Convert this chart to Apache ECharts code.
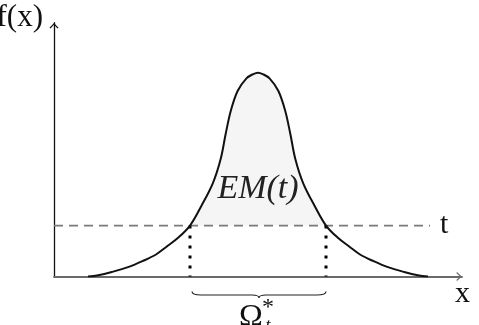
<!DOCTYPE html>
<html><head><meta charset="utf-8">
<script src="https://cdn.jsdelivr.net/npm/echarts@6/dist/echarts.min.js"></script>
<style>html,body{margin:0;padding:0;background:#fff}#c{width:479px;height:325px}</style>
</head><body><div id="c"></div>
<script>
// curve (x centred on the peak, y relative to peak height)
const curveX = [-5,-4.7,-4.3,-3.8,-3.4,-3.0,-2.7,-2.35,-2.0,-1.67,-1.33,-1.1,-0.95,-0.8,-0.6,-0.34,-0.14,0,
                0.14,0.34,0.6,0.8,0.95,1.1,1.33,1.67,2.0,2.35,2.7,3.0,3.4,3.8,4.3,4.7,5];
const curveY = [0,0.006,0.022,0.047,0.075,0.108,0.145,0.19,0.25,0.345,0.457,0.575,0.70,0.813,0.91,0.972,0.993,1.0,
                0.993,0.972,0.91,0.813,0.70,0.575,0.457,0.345,0.25,0.19,0.145,0.108,0.075,0.047,0.022,0.006,0];
const threshold = 0.25;
const thresholdLineX = [-6, 5.06];
const crossX = [-2, 2];
const axisRangeX = [-6, 6];
const axisRangeY = [0, 1.245];
const yAxisLabel = 'f(x)';
const xAxisLabel = 'x';
const thresholdLabel = 't';
const areaLabel = 'EM(t)';

const curveData = curveX.map((x, i) => [x, curveY[i]]);
const shadePts = curveData.filter(p => p[0] >= crossX[0] && p[0] <= crossX[1]);

const chevron = 'path://M5,0 L10,5.2 L8.9,6 L5,2 L1.1,6 L0,5.2 Z';
const chart = echarts.init(document.getElementById('c'), null, {renderer: 'canvas'});
const serif = 'Liberation Serif';
function txt(x, y, text, size, italic, align, color) {
  return {type: 'text', x: x, y: y, z: 100, style: {text: text, fontFamily: serif, fontSize: size,
    fontStyle: italic ? 'italic' : 'normal', fill: color || '#111', align: align, verticalAlign: 'middle'}};
}
chart.setOption({
  animation: false,
  backgroundColor: '#fff',
  grid: {left: 54, right: 17, top: 22.7, bottom: 48.5},
  xAxis: {
    type: 'value', min: axisRangeX[0], max: axisRangeX[1],
    axisLine: {show: true, onZero: false, lineStyle: {color: '#6a6a6a', width: 1.8},
      symbol: ['none', chevron], symbolSize: [9, 6], symbolOffset: [0, -3]},
    axisTick: {show: false}, axisLabel: {show: false}, splitLine: {show: false}
  },
  yAxis: {
    type: 'value', min: axisRangeY[0], max: axisRangeY[1],
    axisLine: {show: true, onZero: false, lineStyle: {color: '#111', width: 1.3},
      symbol: ['none', chevron], symbolSize: [9, 6], symbolOffset: [0, -3]},
    axisTick: {show: false}, axisLabel: {show: false}, splitLine: {show: false}
  },
  series: [
    {type: 'custom', clip: false, silent: true, z: 1, data: [[crossX[0], crossX[1]]], encode: {x: [0, 1]},
      renderItem: function (params, api) {
        const pts = shadePts.map(p => api.coord(p));
        pts.push(api.coord([crossX[1], threshold]));
        pts.push(api.coord([crossX[0], threshold]));
        return {type: 'polygon', shape: {points: pts}, style: {fill: '#f5f5f5', stroke: 'none'}};
      }},
    {type: 'line', data: [[thresholdLineX[0], threshold], [thresholdLineX[1], threshold]], symbol: 'none',
      lineStyle: {color: '#7a7a7a', width: 1.7, type: [9, 6]}, z: 2},
    ...crossX.map(x => ({type: 'line', data: [[x, threshold], [x, 0]], symbol: 'none',
      lineStyle: {color: '#000', width: 3, type: [3, 7]}, z: 3})),
    {type: 'line', data: curveData, symbol: 'none', smooth: 0.35,
      lineStyle: {color: '#111', width: 2}, z: 4},
    {type: 'custom', clip: false, data: [[crossX[0], crossX[1]]], encode: {x: [0, 1]},
      renderItem: function (params, api) {
        const a = api.coord([api.value(0), 0]);
        const b = api.coord([api.value(1), 0]);
        const x1 = a[0] + 2, x2 = b[0], xm = (x1 + x2) / 2, y0 = a[1] + 15, d = 3.5, tip = 6.5;
        const p = `M${x1},${y0} Q${x1},${y0+d} ${x1+9},${y0+d} L${xm-7},${y0+d} Q${xm},${y0+d} ${xm},${y0+tip} Q${xm},${y0+d} ${xm+7},${y0+d} L${x2-9},${y0+d} Q${x2},${y0+d} ${x2},${y0}`;
        return {type: 'path', shape: {pathData: p}, style: {fill: 'none', stroke: '#222', lineWidth: 1.2}};
      }, z: 3}
  ],
  graphic: [
    txt(43, 18, yAxisLabel, 31, false, 'right'),
    txt(455, 294, xAxisLabel, 30, false, 'left'),
    txt(440, 225, thresholdLabel, 30, false, 'left'),
    txt(258, 189, areaLabel, 34, true, 'center', '#222'),
    txt(239, 318, 'Ω', 32, false, 'left'),
    txt(268, 308, '*', 24, false, 'center'),
    txt(268, 326, 't', 18, true, 'center')
  ]
});
</script></body></html>
